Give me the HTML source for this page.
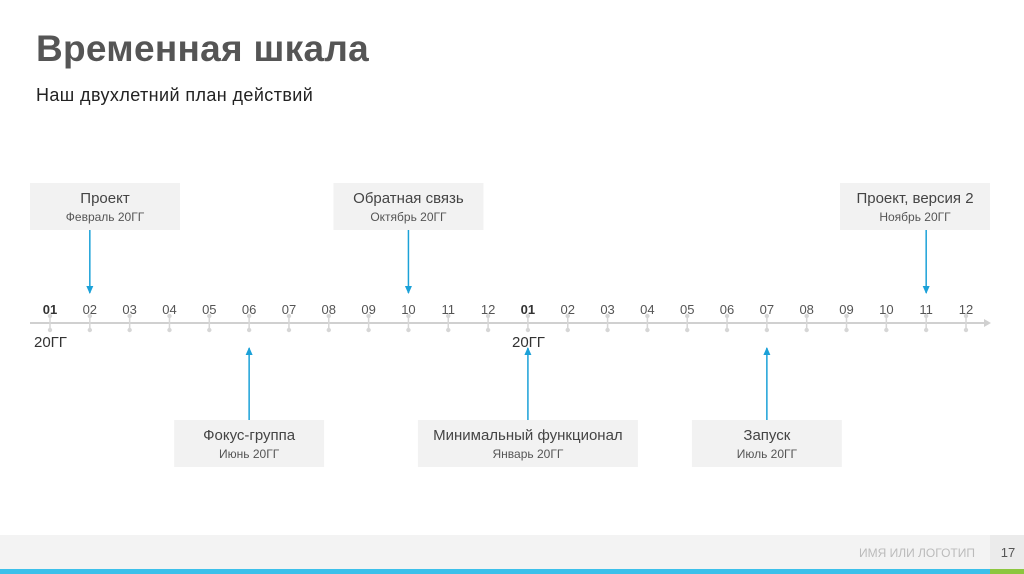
<!DOCTYPE html>
<html><head><meta charset="utf-8">
<style>
body{margin:0;width:1024px;height:574px;background:#fff;overflow:hidden;font-family:"Liberation Sans","DejaVu Sans",sans-serif;position:relative}
.title{position:absolute;left:36px;top:28px;font-size:37px;font-weight:bold;color:#555;letter-spacing:0.3px}
.sub{position:absolute;left:36px;top:85px;font-size:18px;color:#222;letter-spacing:0.4px}
</style></head>
<body>
<div class="title">Временная шкала</div>
<div class="sub">Наш двухлетний план действий</div>
<svg id="chart" width="1024" height="574" style="position:absolute;left:0;top:0">
<defs><marker id="ah" markerUnits="userSpaceOnUse" markerWidth="8" markerHeight="8" refX="7" refY="4" orient="auto"><path d="M0,0.5 L8,4 L0,7.5 z" fill="#1ba1d8"/></marker></defs>
<rect x="0" y="535" width="990" height="34" fill="#f3f3f3"/>
<rect x="990" y="535" width="34" height="34" fill="#ebebeb"/>
<rect x="0" y="569" width="990" height="5" fill="#3cc0ea"/>
<rect x="990" y="569" width="34" height="5" fill="#8cc63f"/>
<text x="975" y="557" text-anchor="end" font-size="12" fill="#bbb">ИМЯ ИЛИ ЛОГОТИП</text>
<text x="1008" y="557" text-anchor="middle" font-size="13" fill="#555">17</text>
<line x1="30" y1="323" x2="986" y2="323" stroke="#d0d0d0" stroke-width="2"/>
<path d="M984,319 L991,323 L984,327 z" fill="#d0d0d0"/>
<text x="34" y="347" font-size="15" fill="#333">20ГГ</text>
<text x="512" y="347" font-size="15" fill="#333">20ГГ</text>
</svg>
<script>
const months=["01","02","03","04","05","06","07","08","09","10","11","12","01","02","03","04","05","06","07","08","09","10","11","12"];
const eventNames=["Проект","Обратная связь","Проект, версия 2","Фокус-группа","Минимальный функционал","Запуск"];
const eventDates=["Февраль 20ГГ","Октябрь 20ГГ","Ноябрь 20ГГ","Июнь 20ГГ","Январь 20ГГ","Июль 20ГГ"];
const eventMonthIndex=[1,9,22,5,12,18];
const eventAbove=[true,true,true,false,false,false];
const eventBoxWidth=[150,150,150,150,220,150];

const svg=document.getElementById('chart');
const NS='http://www.w3.org/2000/svg';
const x0=50,step=(966-50)/23;
function xOf(i){return x0+i*step;}
function mk(tag,attrs){const e=document.createElementNS(NS,tag);for(const k in attrs)e.setAttribute(k,attrs[k]);svg.appendChild(e);return e;}

months.forEach((m,i)=>{
  const x=xOf(i);
  const g=mk('line',{x1:x,y1:316,x2:x,y2:330,stroke:'#d6d6d6','stroke-width':1.5});
  
  
  [316,330].forEach(y=>{const c=mk('circle',{cx:x,cy:y,r:2.2,fill:'#d6d6d6'});
    
    });
  const t=mk('text',{x:x,y:314,'text-anchor':'middle','font-size':13,fill:(i%12===0?'#333':'#555'),'font-weight':(i%12===0?'bold':'normal')});
  t.textContent=m;
  
  
});

eventNames.forEach((n,k)=>{
  const x=xOf(eventMonthIndex[k]);
  const w=eventBoxWidth[k];
  let bx=x-w/2; if(bx<30)bx=30; if(bx+w>990)bx=990-w;
  const up=eventAbove[k];
  const by=up?183:420;
  const r=mk('rect',{x:bx,y:by,width:w,height:47,fill:'#f2f2f2'});
  
  
  const t1=mk('text',{x:bx+w/2,y:by+20,'text-anchor':'middle','font-size':15,fill:'#444'});
  t1.textContent=n;
  
  
  const t2=mk('text',{x:bx+w/2,y:by+38,'text-anchor':'middle','font-size':12,fill:'#555'});
  t2.textContent=eventDates[k];
  
  
  const a=up?mk('line',{x1:x,y1:230,x2:x,y2:293,stroke:'#1ba1d8','stroke-width':1.5,'marker-end':'url(#ah)'})
            :mk('line',{x1:x,y1:420,x2:x,y2:348,stroke:'#1ba1d8','stroke-width':1.5,'marker-end':'url(#ah)'});
  
  
});
</script>
</body></html>
